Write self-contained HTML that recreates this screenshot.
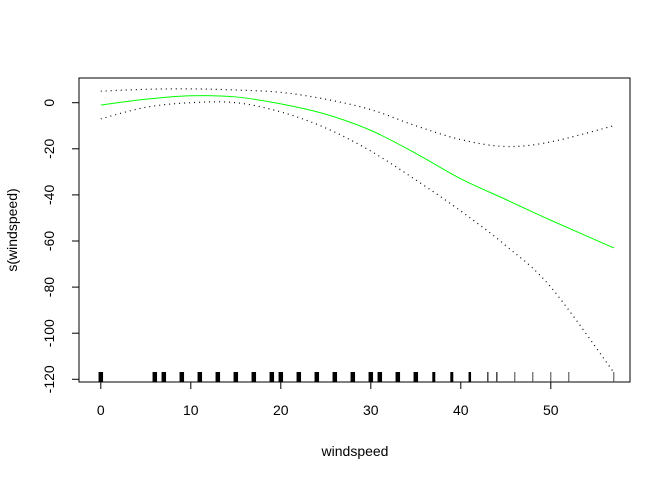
<!DOCTYPE html>
<html><head><meta charset="utf-8"><style>
body{margin:0;background:#fff;}
svg text{font-family:"Liberation Sans",Arial,sans-serif;font-size:14px;fill:#000;}
</style></head><body>
<svg width="672" height="480">
<rect x="79" y="78" width="551" height="304" fill="none" stroke="#000" stroke-width="1"/>
<g id="axes"></g><g id="rug"></g><g id="curves"></g>
<text x="355" y="456" text-anchor="middle">windspeed</text>
<text transform="translate(17,230) rotate(-90)" text-anchor="middle">s(windspeed)</text>
</svg>
<script>
const xTicks=[0,10,20,30,40,50];
const yTicks=[0,-20,-40,-60,-80,-100,-120];
const xs=[0,5,10,15,20,25,30,35,40,45,50,57];
const fit=[-1,1.5,3,2.5,-0.5,-5,-12,-22,-33,-42,-51,-63];
const upper=[5,5.8,6,5.5,4.5,1.5,-3,-10,-16,-19,-17,-10];
const lower=[-7,-2,0,0,-4,-11,-21,-33.5,-47,-62,-80,-117];
const rugVals=[0,6,7,9,11,13,15,17,19,20,22,24,26,28,30,31,33,35,37,39,41,43,44,46,48,50,52,57];
const rugW=[4.5,4.5,4.5,4.5,4.5,4.5,4.5,4.5,4.5,4.5,4.5,4.5,4.5,4.5,4.5,4.5,4.5,4.5,3,3,2.5,1.5,1.5,1,1,1,1,1];
const X=v=>100.8+v*9.0, Y=v=>102.7-v*2.305;
const NS="http://www.w3.org/2000/svg";
function mk(t,a,p){const e=document.createElementNS(NS,t);for(const k in a)e.setAttribute(k,a[k]);p.appendChild(e);return e;}
const ax=document.getElementById('axes');
mk('line',{x1:X(0),x2:X(50),y1:382,y2:382,stroke:'#000'},ax);
xTicks.forEach(v=>{mk('line',{x1:X(v),x2:X(v),y1:382,y2:389,stroke:'#000'},ax);
 const t=mk('text',{x:X(v),y:415,'text-anchor':'middle'},ax);t.textContent=v;
 
 });
mk('line',{x1:79,x2:79,y1:Y(0),y2:Y(-120),stroke:'#000'},ax);
yTicks.forEach(v=>{mk('line',{x1:72,x2:79,y1:Y(v),y2:Y(v),stroke:'#000'},ax);
 const t=mk('text',{transform:`translate(54,${Y(v)}) rotate(-90)`,'text-anchor':'middle'},ax);t.textContent=v;
 
 });
const rg=document.getElementById('rug');
rugVals.forEach((v,i)=>{const l=mk('line',{x1:X(v),x2:X(v),y1:372,y2:382,stroke:rugW[i]>2?'#000':'#444','stroke-width':rugW[i]},rg);
 
 });
function path(ys){const p=xs.map((x,i)=>[X(x),Y(ys[i])]);let d=`M${p[0][0]},${p[0][1]}`;
 for(let i=0;i<p.length-1;i++){const a=p[Math.max(0,i-1)],b=p[i],c=p[i+1],e=p[Math.min(p.length-1,i+2)];
 d+=` C${b[0]+(c[0]-a[0])/6},${b[1]+(c[1]-a[1])/6} ${c[0]-(e[0]-b[0])/6},${c[1]-(e[1]-b[1])/6} ${c[0]},${c[1]}`;}return d;}
const cg=document.getElementById('curves');
const f=mk('path',{d:path(fit),fill:'none',stroke:'#00ff00','stroke-width':1},cg);


const u=mk('path',{d:path(upper),fill:'none',stroke:'#000','stroke-width':1.2,'stroke-dasharray':'1 4'},cg);


const lo=mk('path',{d:path(lower),fill:'none',stroke:'#000','stroke-width':1.2,'stroke-dasharray':'1 4'},cg);


</script>
</body></html>
